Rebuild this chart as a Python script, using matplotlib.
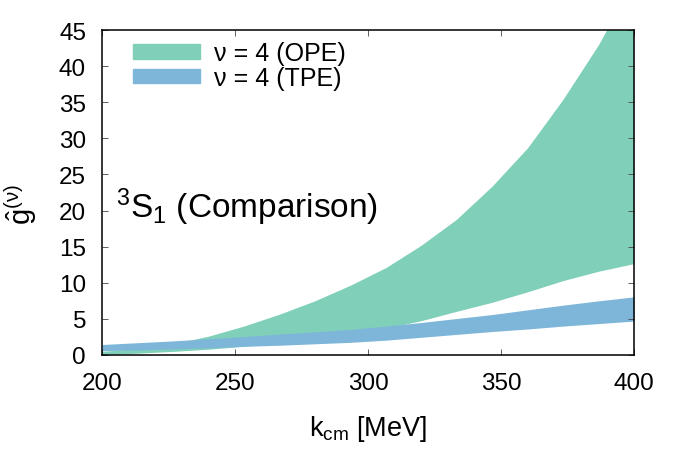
import numpy as np
import matplotlib.pyplot as plt
from matplotlib.patches import Patch

plt.rcParams['font.family'] = ['Liberation Sans', 'DejaVu Sans']
plt.rcParams['mathtext.fontset'] = 'custom'
plt.rcParams['mathtext.rm'] = 'Liberation Sans'
plt.rcParams['mathtext.it'] = 'Liberation Sans'

# momentum grid (MeV)
k = [200, 213.3, 226.7, 240, 253.3, 266.7, 280, 293.3, 306.7, 320,
     333.3, 346.7, 360, 373.3, 386.7, 400]

# nu = 4 (OPE) band
ope_lo = [0.05, 0.25, 0.5, 0.8, 1.2, 1.65, 2.15, 2.9, 3.7, 4.75,
          6.05, 7.3, 8.75, 10.3, 11.6, 12.65]
ope_hi = [0.5, 0.9, 1.55, 2.6, 4.0, 5.65, 7.5, 9.65, 12.1, 15.2,
          18.8, 23.4, 28.7, 35.4, 43.0, 52.0]

# nu = 4 (TPE) band
tpe_lo = [0.6, 0.7, 0.85, 1.0, 1.2, 1.35, 1.55, 1.75, 2.05, 2.45,
          2.85, 3.25, 3.6, 4.0, 4.35, 4.7]
tpe_hi = [1.45, 1.7, 1.95, 2.25, 2.55, 2.9, 3.2, 3.55, 4.0, 4.5,
          5.05, 5.6, 6.25, 6.9, 7.5, 8.05]

c_ope = '#80cfb9'
c_tpe = '#7db6d9'

fig = plt.figure(figsize=(6.81, 4.77), dpi=100)
ax = fig.add_axes([0.1498, 0.2537, 0.7812, 0.6813])

ax.fill_between(k, ope_lo, ope_hi, color=c_ope, lw=0)
ax.fill_between(k, tpe_lo, tpe_hi, color=c_tpe, lw=0)

ax.set_xlim(200, 400)
ax.set_ylim(0, 45)
ax.set_xticks([200, 250, 300, 350, 400])
ax.set_yticks(np.arange(0, 46, 5))
ax.tick_params(direction='in', top=True, right=True, labelsize=17.5,
               length=4.5, width=0.6, color='#444444')
ax.tick_params(axis='x', pad=12)
ax.tick_params(axis='y', pad=11.5)
for s in ax.spines.values():
    s.set_linewidth(1.1)

ax.set_xlabel(r'k$_{\rm cm}$ [MeV]', fontsize=19.5, labelpad=14)
ax.text(-0.152, 0.465, r'$\hat{g}^{(\nu)}$', transform=ax.transAxes,
        fontsize=21, rotation=90, ha='center', va='center')

ax.text(0.0263, 0.4255, r'$^{3}$S$_{1}$ (Comparison)', transform=ax.transAxes,
        fontsize=24, va='baseline')

handles = [Patch(color=c_ope, label='ν = 4 (OPE)'),
           Patch(color=c_tpe, label='ν = 4 (TPE)')]
ax.legend(handles=handles, loc='upper left', frameon=False, fontsize=18,
          handlelength=2.7, handleheight=0.52, labelspacing=0.02,
          handletextpad=0.56, borderpad=0, borderaxespad=0,
          bbox_to_anchor=(0.058, 0.965))

fig.savefig('out.png', dpi=100)
